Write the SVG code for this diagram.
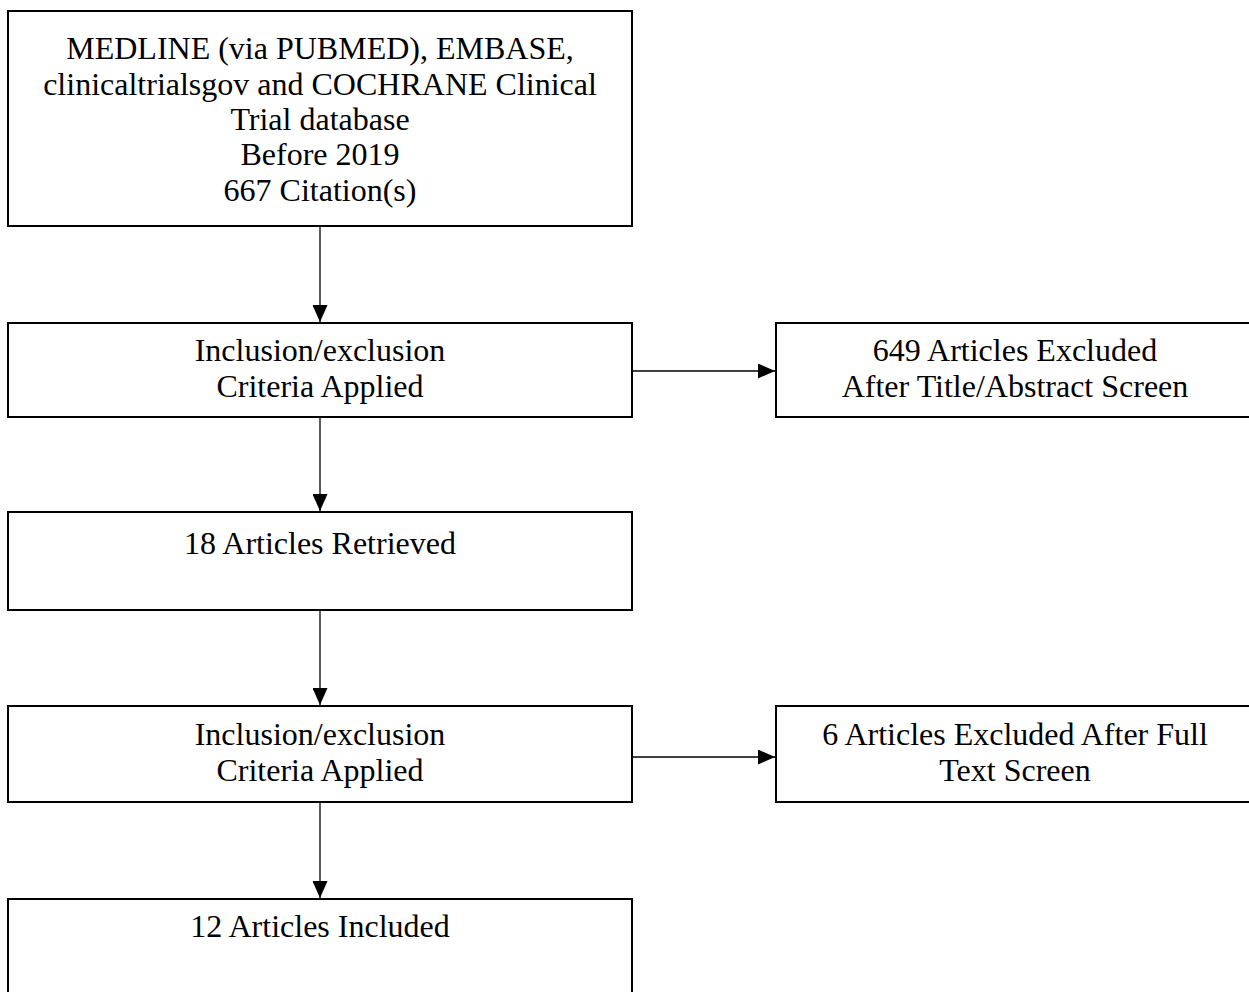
<svg xmlns="http://www.w3.org/2000/svg" width="1249" height="992" viewBox="0 0 1249 992">
<style>
.box{fill:#fff;stroke:#000;stroke-width:2}
.t{font-family:"Liberation Serif","Times New Roman",serif;font-size:32px;fill:#000;text-anchor:middle}
.c{stroke:#000;stroke-width:1.3;fill:none;marker-end:url(#ah)}
</style>
<defs>
<marker id="ah" markerWidth="17" markerHeight="15" refX="17" refY="7.5" orient="auto" markerUnits="userSpaceOnUse">
<path d="M0,0 L17,7.5 L0,15 Z" fill="#000"/>
</marker>
</defs>
<rect width="1249" height="992" fill="#fff"/>
<g id="n1">
<rect class="box" x="8" y="11" width="624" height="215"/>
<text class="t" x="320" y="59">MEDLINE (via PUBMED), EMBASE,</text>
<text class="t" x="320" y="95">clinicaltrialsgov and COCHRANE Clinical</text>
<text class="t" x="320" y="130">Trial database</text>
<text class="t" x="320" y="165">Before 2019</text>
<text class="t" x="320" y="201">667 Citation(s)</text>
</g>
<g id="n2">
<rect class="box" x="8" y="323" width="624" height="94"/>
<text class="t" x="320" y="361">Inclusion/exclusion</text>
<text class="t" x="320" y="397">Criteria Applied</text>
</g>
<g id="n3">
<rect class="box" x="776" y="323" width="480" height="94"/>
<text class="t" x="1015" y="361">649 Articles Excluded</text>
<text class="t" x="1015" y="397">After Title/Abstract Screen</text>
</g>
<g id="n4">
<rect class="box" x="8" y="512" width="624" height="98"/>
<text class="t" x="320" y="554">18 Articles Retrieved</text>
</g>
<g id="n5">
<rect class="box" x="8" y="706" width="624" height="96"/>
<text class="t" x="320" y="745">Inclusion/exclusion</text>
<text class="t" x="320" y="781">Criteria Applied</text>
</g>
<g id="n6">
<rect class="box" x="776" y="706" width="480" height="96"/>
<text class="t" x="1015" y="745">6 Articles Excluded After Full</text>
<text class="t" x="1015" y="781">Text Screen</text>
</g>
<g id="n7">
<rect class="box" x="8" y="899" width="624" height="110"/>
<text class="t" x="320" y="937">12 Articles Included</text>
</g>
<g id="connectors">
<line class="c" x1="320" y1="227" x2="320" y2="322"/>
<line class="c" x1="633" y1="371" x2="775" y2="371"/>
<line class="c" x1="320" y1="418" x2="320" y2="511"/>
<line class="c" x1="320" y1="611" x2="320" y2="705"/>
<line class="c" x1="633" y1="757" x2="775" y2="757"/>
<line class="c" x1="320" y1="803" x2="320" y2="898"/>
</g>
</svg>
